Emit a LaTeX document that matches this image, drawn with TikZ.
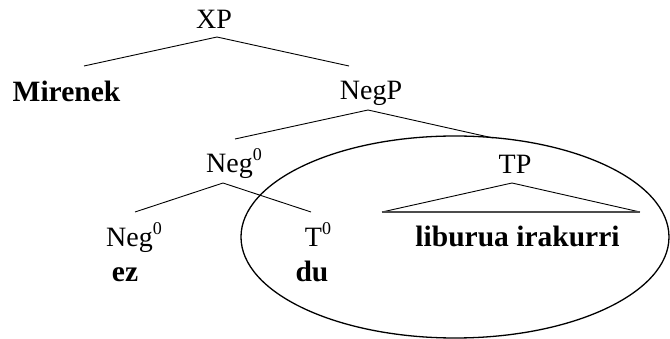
\documentclass[tikz,border=0pt]{standalone}
\usepackage{fontspec}
\setmainfont{Liberation Serif}
\newcommand\zsup{\raisebox{12pt}{\fontsize{18}{18}\selectfont 0}}
\begin{document}
\begin{tikzpicture}[x=1pt,y=-1pt,
  lbl/.style={anchor=base, inner sep=0pt, font=\fontsize{28}{33}\selectfont},
  bl/.style={anchor=base, inner sep=0pt, font=\fontsize{29.5}{34}\selectfont\bfseries},
  br/.style={line width=0.9pt},
  tribase/.style={line width=2pt, color=black!70}]
\useasboundingbox (0,0) rectangle (670,339);
% labels
\node[lbl] (xp) at (214,29) {XP};
\node[bl] (mir) at (66.5,102) {Mirenek};
\node[lbl] (negp) at (371,100) {NegP};
\node[lbl] (negbar) at (234,173) {Neg\zsup};
\node[lbl] (tp) at (515,174) {TP};
\node[lbl] (neg0) at (134,247) {Neg\zsup};
\node[lbl] (t0) at (318,247) {T\zsup};
\node[bl] (lib) at (517.5,247) {liburua irakurri};
\node[bl] (ez) at (125,282) {ez};
\node[bl] (du) at (312,282) {du};
% branch points
\coordinate (xp-a) at (217,37);
\coordinate (xp-l) at (84,66);
\coordinate (xp-r) at (349,66);
\coordinate (negp-a) at (368,110);
\coordinate (negp-l) at (235,139);
\coordinate (negp-r) at (493,138);
\coordinate (negbar-a) at (223,183);
\coordinate (negbar-l) at (135,212);
\coordinate (negbar-r) at (311,212);
\coordinate (tp-a) at (512,183);
\coordinate (tp-l) at (382,212);
\coordinate (tp-r) at (640,212);
% branches
\draw[br] (xp-l) -- (xp-a) -- (xp-r);
\draw[br] (negp-l) -- (negp-a) -- (negp-r);
\draw[br] (negbar-l) -- (negbar-a) -- (negbar-r);
\draw[br] (tp-l) -- (tp-a) -- (tp-r);
\draw[tribase] (tp-l) -- (tp-r);
% ellipse
\draw[line width=1.3pt] (455,237) ellipse [x radius=214, y radius=101];
\end{tikzpicture}
\end{document}
